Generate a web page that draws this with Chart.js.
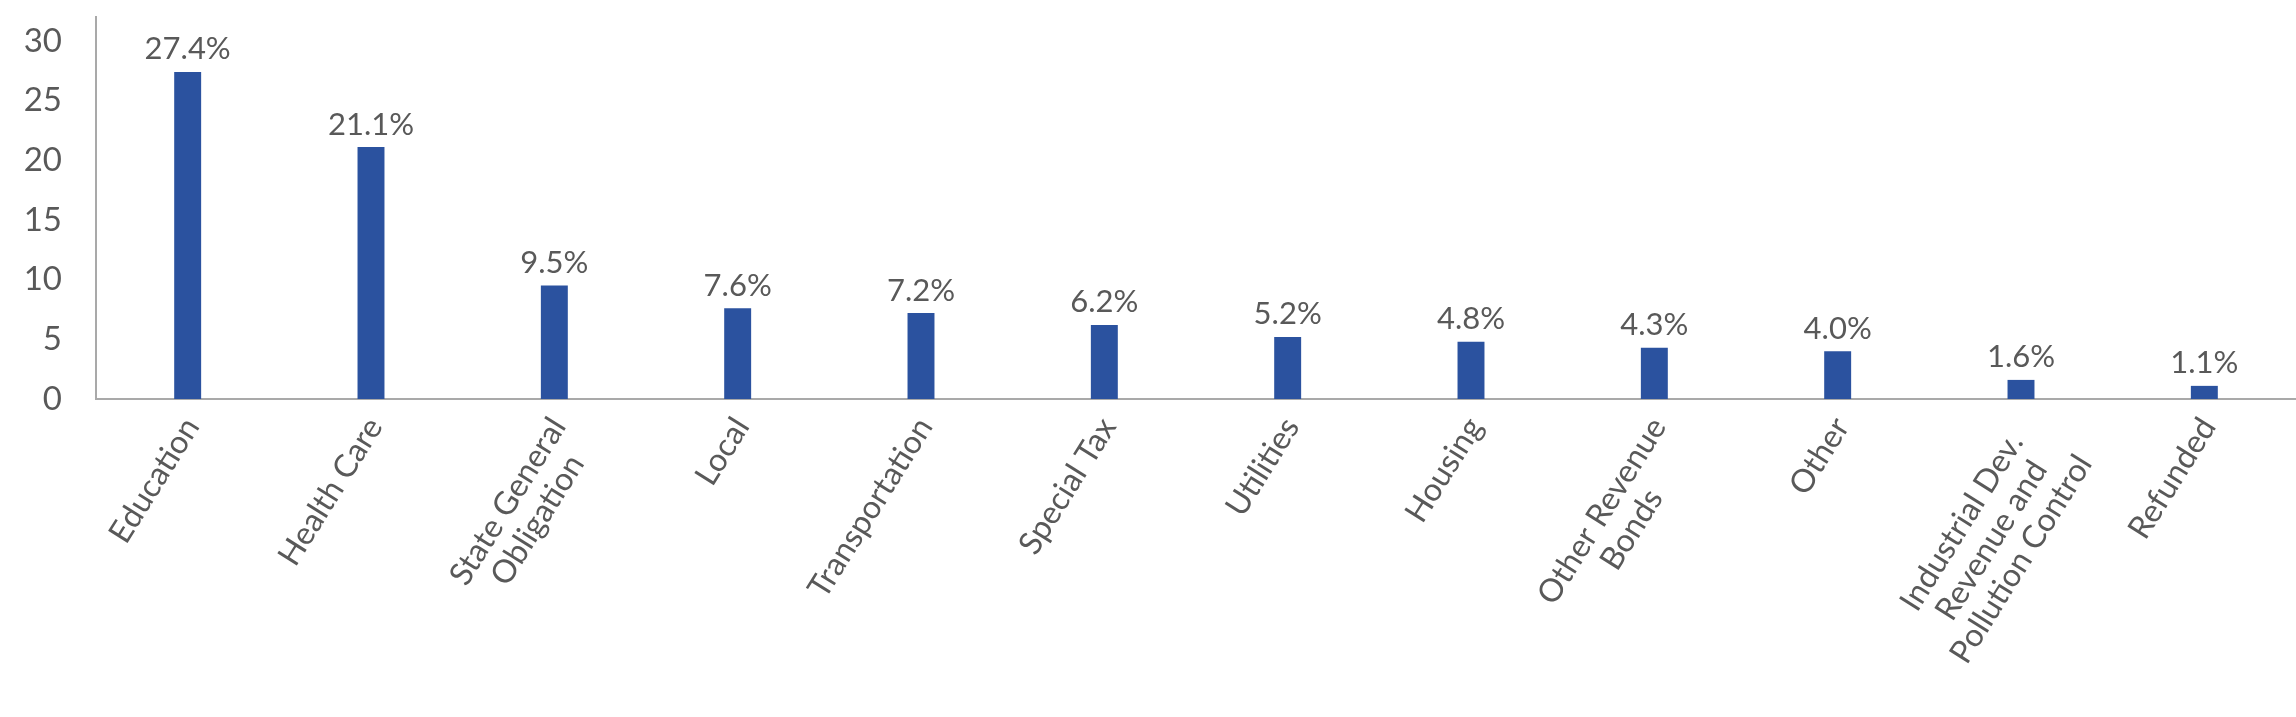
<!DOCTYPE html>
<html>
<head>
<meta charset="utf-8">
<script src="https://cdn.jsdelivr.net/npm/chart.js@4"></script>
<style>
  html, body { margin: 0; padding: 0; background: #fff; }
  #wrap { width: 2296px; height: 717px; }
</style>
</head>
<body>
<div id="wrap"><canvas id="chart"></canvas></div>
<script>
// ── Data ──────────────────────────────────────────────────────────────────────
const categories = [
    'Education', 'Health Care', ['State General', 'Obligation'], 'Local',
    'Transportation', 'Special Tax', 'Utilities', 'Housing',
    ['Other Revenue', 'Bonds'], 'Other',
    ['Industrial Dev.', 'Revenue and', 'Pollution Control'], 'Refunded',
];
const shares = [27.4, 21.1, 9.5, 7.6, 7.2, 6.2, 5.2, 4.8, 4.3, 4.0, 1.6, 1.1];
const yTicks = [0, 5, 10, 15, 20, 25, 30];

const FONT = 'Lato, "Open Sans", sans-serif';
const TEXT = '#595959';
const AXIS = '#a9a9a9';
const BAR  = '#2b529f';

// ── Value labels above bars ───────────────────────────────────────────────────
const barLabels = {
    id: 'barLabels',
    afterDatasetsDraw(chart) {
        const { ctx } = chart;
        const meta = chart.getDatasetMeta(0);
        ctx.save();
        ctx.font = `31px ${FONT}`;
        ctx.fillStyle = TEXT;
        ctx.textAlign = 'center';
        ctx.textBaseline = 'bottom';
        meta.data.forEach((bar, i) => {
            ctx.fillText(shares[i].toFixed(1) + '%', bar.x, bar.y - 7);
        });
        ctx.restore();
    },
};

// ── Rotated category labels, lines centred within the block (Excel style) ────
const catLabels = {
    id: 'catLabels',
    afterDraw(chart) {
        const { ctx } = chart;
        const xs = chart.scales.x;
        const ang = 58 * Math.PI / 180, lh = 35;
        ctx.save();
        ctx.font = `32px ${FONT}`;
        ctx.fillStyle = TEXT;
        ctx.textAlign = 'center';
        ctx.textBaseline = 'middle';
        categories.forEach((lab, i) => {
            const lines = Array.isArray(lab) ? lab : [lab];
            const w = Math.max(...lines.map(l => ctx.measureText(l).width));
            ctx.save();
            ctx.translate(xs.getPixelForTick(i) + 4, xs.top + 22);
            ctx.rotate(-ang);
            lines.forEach((l, j) => ctx.fillText(l, -w / 2, j * lh));
            ctx.restore();
        });
        ctx.restore();
    },
};

new Chart(document.getElementById('chart'), {
    type: 'bar',
    data: {
        labels: categories,
        datasets: [{ data: shares, backgroundColor: BAR, categoryPercentage: 1, barPercentage: 0.147 }],
    },
    options: {
        responsive: true, maintainAspectRatio: false, animation: false,
        layout: { padding: { top: 17, right: 0, left: 0, bottom: 0 } },
        plugins: { legend: { display: false }, tooltip: { enabled: false } },
        scales: {
            x: {
                grid: { display: false, drawTicks: false },
                border: { display: true, color: AXIS, width: 2 },
                ticks: { display: false },
                afterFit: s => { s.height = 318; s.paddingLeft = 0; s.paddingRight = 0; },
            },
            y: {
                min: 0, max: 32,
                grid: { display: false, drawTicks: false },
                border: { display: true, color: AXIS, width: 2 },
                ticks: { stepSize: 5, includeBounds: false, color: TEXT, font: { family: FONT, size: 33 }, padding: 34,
                    callback: v => yTicks.includes(v) ? v : '' },
                afterFit: s => { s.width = 96; s.paddingTop = 0; s.paddingBottom = 0; },
            },
        },
    },
    plugins: [barLabels, catLabels],
});
</script>
</body>
</html>
